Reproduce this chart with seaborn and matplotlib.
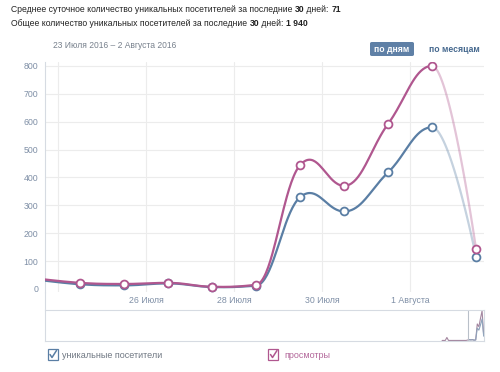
import numpy as np
import pandas as pd
import matplotlib
matplotlib.use("Agg")
import matplotlib.pyplot as plt
import seaborn as sns
from matplotlib.patches import Rectangle, FancyBboxPatch
from matplotlib.lines import Line2D

# ---------------- data ----------------
days = ["23 Июля", "24 Июля", "25 Июля", "26 Июля", "27 Июля", "28 Июля",
        "29 Июля", "30 Июля", "31 Июля", "1 Августа", "2 Августа"]
visitors = [34, 17, 13, 20, 7, 12, 329, 278, 418, 580, 114]
views = [38, 22, 18, 22, 8, 15, 444, 370, 592, 800, 142]
tick_labels = ["26 Июля", "28 Июля", "30 Июля", "1 Августа"]
tick_days = ["26 Июля", "28 Июля", "30 Июля", "1 Августа"]
y_ticks = [0, 100, 200, 300, 400, 500, 600, 700, 800]
# navigator (overview) earlier period values
nav_prev_days = [-16, -14, -13, -12, -1]
nav_prev_views = [0, 0, 80, 0, 0]

stat_avg = "71"
stat_total = "1 940"

W, H = 500, 372
BLUE = "#5a7ea4"
PINK = "#b0578f"
TICK = "#7f8fa6"
GRID = "#ececec"

sns.set_theme(style="white")
plt.rcParams["font.family"] = ["Liberation Sans", "DejaVu Sans"]

fig = plt.figure(figsize=(W / 100, H / 100), dpi=100)


def fx(x):
    return x / W


def fy(y):
    return 1 - y / H


xi = np.arange(len(days), dtype=float)
day_pos = {d: i for i, d in enumerate(days)}


def spline(xs, ys, n=40):
    xs = np.asarray(xs, float)
    ys = np.asarray(ys, float)
    N = len(xs)
    lc = [(xs[i], ys[i]) for i in range(N)]
    rc = [(xs[i], ys[i]) for i in range(N)]
    s, d = 1.5, 2.5
    for i in range(1, N - 1):
        px, py = xs[i], ys[i]
        lx, ly = xs[i - 1], ys[i - 1]
        nx, ny = xs[i + 1], ys[i + 1]
        lcx = (s * px + lx) / d
        lcy = (s * py + ly) / d
        rcx = (s * px + nx) / d
        rcy = (s * py + ny) / d
        corr = ((rcy - lcy) * (rcx - px)) / (rcx - lcx) + py - rcy
        lcy += corr
        rcy += corr
        if lcy > max(ly, py):
            lcy = max(ly, py); rcy = 2 * py - lcy
        elif lcy < min(ly, py):
            lcy = min(ly, py); rcy = 2 * py - lcy
        lc[i] = (lcx, lcy)
        rc[i] = (rcx, rcy)
    segs = []
    t = np.linspace(0, 1, n)
    for i in range(1, N):
        p0 = np.array([xs[i - 1], ys[i - 1]])
        p1 = np.array(rc[i - 1])
        p2 = np.array(lc[i])
        p3 = np.array([xs[i], ys[i]])
        pts = ((1 - t) ** 3)[:, None] * p0 + (3 * (1 - t) ** 2 * t)[:, None] * p1 \
            + (3 * (1 - t) * t ** 2)[:, None] * p2 + (t ** 3)[:, None] * p3
        segs.append(pts)
    return segs


# ---------------- main chart ----------------
ax = fig.add_axes([fx(45), fy(292), fx(484) - fx(45), fy(62) - fy(292)])
ax.set_xlim(0.205, 10.18)
ax.set_ylim(-10.8, 814)

for yt in y_ticks[1:]:
    ax.axhline(yt, color=GRID, lw=0.8, zorder=0)
for vx in [0.5] + [day_pos[d] - 0.5 for d in tick_days]:
    ax.axvline(vx, color=GRID, lw=0.8, zorder=0)

for vals, col in [(visitors, BLUE), (views, PINK)]:
    segs = spline(xi, vals)
    main = np.vstack(segs[:-1])
    df = pd.DataFrame({"x": main[:, 0], "y": main[:, 1]})
    sns.lineplot(data=df, x="x", y="y", sort=False, estimator=None, color=col,
                 lw=1.6, ax=ax, zorder=3)
    last = segs[-1]
    df2 = pd.DataFrame({"x": last[:, 0], "y": last[:, 1]})
    sns.lineplot(data=df2, x="x", y="y", sort=False, estimator=None, color=col,
                 lw=1.6, alpha=0.35, ax=ax, zorder=3)
    dfp = pd.DataFrame({"x": xi, "y": vals})
    sns.scatterplot(data=dfp, x="x", y="y", s=32, facecolor="white", edgecolor=col,
                    linewidth=1.3, ax=ax, zorder=4)

ax.set_xticks([day_pos[d] - 0.5 for d in tick_days])
ax.set_xticklabels(tick_labels, fontsize=6.3, color=TICK)
ax.set_yticks(y_ticks)
ax.set_yticklabels([str(v) for v in y_ticks], fontsize=6.3, color=TICK)
ax.tick_params(axis="x", length=0, pad=3)
ax.tick_params(axis="y", length=0, pad=5)
ax.set_xlabel("")
ax.set_ylabel("")
for sp in ["top", "right", "bottom"]:
    ax.spines[sp].set_visible(False)
ax.spines["left"].set_color("#d6dbe2")
ax.spines["left"].set_linewidth(0.8)
fig.add_artist(Line2D([fx(45), fx(45)], [fy(292), fy(309)], color="#d6dbe2", lw=0.8))

# ---------------- navigator ----------------
nav = fig.add_axes([fx(45), fy(341), fx(484) - fx(45), fy(310) - fy(341)])
nav.set_xlim(-264.2, 10.2)
nav.set_ylim(-15, 820)
ndf = pd.DataFrame({"x": list(nav_prev_days) + list(xi[1:]),
                    "y": list(nav_prev_views) + list(views[1:])})
sns.lineplot(data=ndf, x="x", y="y", sort=False, estimator=None, color="#a487a0",
             lw=0.8, ax=nav)
vdf = pd.DataFrame({"x": xi[1:], "y": visitors[1:]})
sns.lineplot(data=vdf, x="x", y="y", sort=False, estimator=None, color="#8ea3bb",
             lw=0.8, ax=nav)
nav.axvline(0.2, color="#b9c0c9", lw=0.8)
nav.set_xticks([])
nav.set_yticks([])
nav.set_xlabel("")
nav.set_ylabel("")
for sp in nav.spines.values():
    sp.set_color("#d6dbe2")
    sp.set_linewidth(0.8)

# ---------------- header texts ----------------
FS = 6.25
DARK = "#222222"
renderer = fig.canvas.get_renderer()


def seq_text(x0, y, parts, size=FS):
    x = x0
    for txt, weight in parts:
        t = fig.text(fx(x), fy(y), txt, fontsize=size, fontweight=weight, color=DARK,
                     va="center", ha="left")
        bb = t.get_window_extent(renderer=renderer)
        x += bb.width
    return x


seq_text(11, 10, [("Среднее суточное количество уникальных посетителей за последние ", "normal"),
                  ("30", "bold"), (" дней: ", "normal"), (stat_avg, "bold")])
seq_text(11, 24, [("Общее количество уникальных посетителей за последние ", "normal"),
                  ("30", "bold"), (" дней: ", "normal"), (stat_total, "bold")])

fig.text(fx(53), fy(46), "23 Июля 2016 – 2 Августа 2016", fontsize=6.15, color="#77808c",
         va="center", ha="left")

btn = FancyBboxPatch((fx(370), fy(56)), fx(414) - fx(370), fy(42) - fy(56),
                     boxstyle="round,pad=0,rounding_size=0.004", transform=fig.transFigure,
                     facecolor="#5f80a6", edgecolor="none")
fig.add_artist(btn)
fig.text(fx(392), fy(49), "по дням", fontsize=FS, fontweight="bold", color="white",
         va="center", ha="center")
fig.text(fx(454), fy(49), "по месяцам", fontsize=FS, fontweight="bold", color="#45688e",
         va="center", ha="center")

# ---------------- legend checkboxes ----------------
def checkbox(x, col):
    r = Rectangle((fx(x), fy(360)), fx(10), 11 / H, transform=fig.transFigure,
                  facecolor="white", edgecolor=col, lw=0.9)
    fig.add_artist(r)
    fig.add_artist(Line2D([fx(x + 2.5), fx(x + 4.5), fx(x + 9)],
                          [fy(354.5), fy(357.5), fy(350.5)], color=col, lw=1.1))


checkbox(47.5, BLUE)
fig.text(fx(62), fy(355), "уникальные посетители", fontsize=6.5, color="#6f7782",
         va="center", ha="left")
checkbox(268, PINK)
fig.text(fx(284), fy(355), "просмотры", fontsize=6.5, color="#b3679a",
         va="center", ha="left")

fig.savefig("out.png", dpi=100)
